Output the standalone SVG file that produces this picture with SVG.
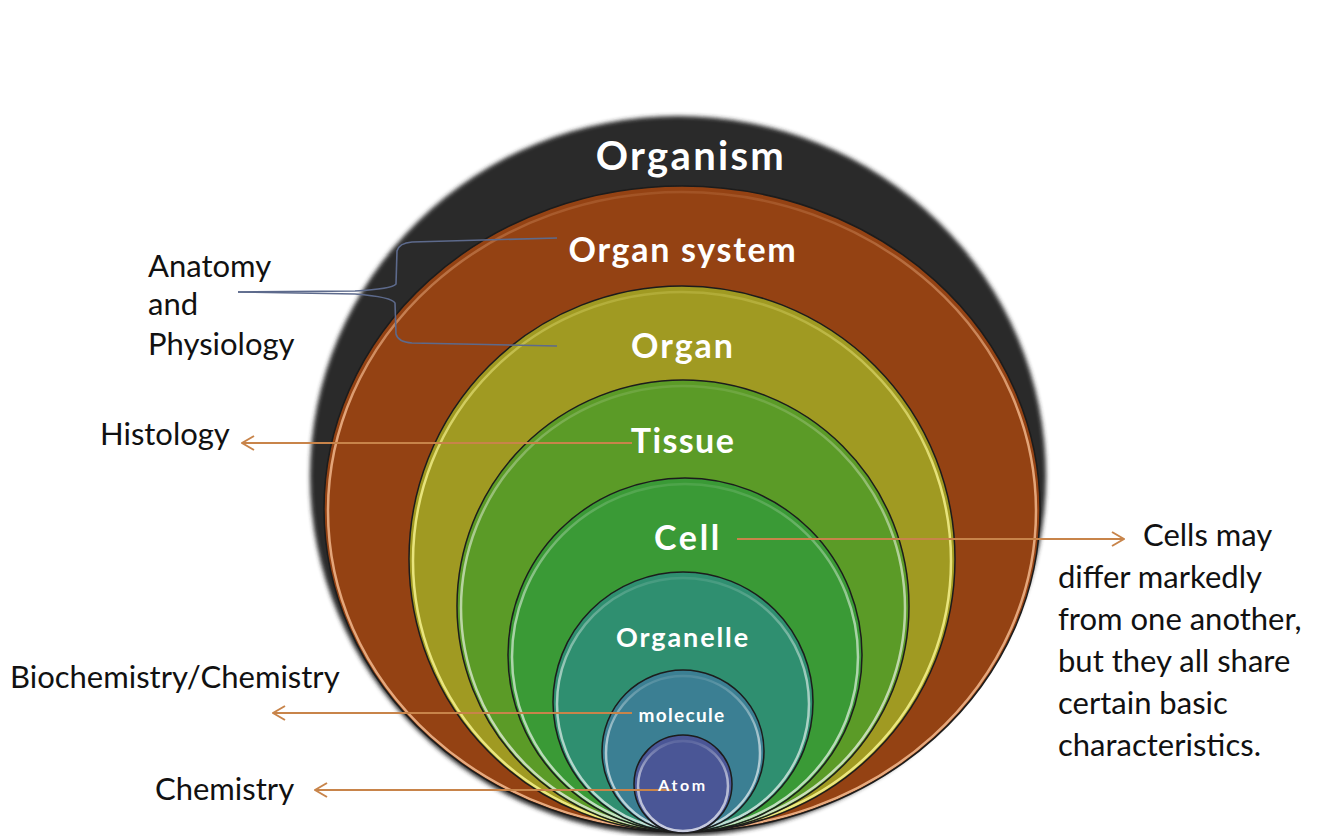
<svg xmlns="http://www.w3.org/2000/svg" width="1319" height="836" viewBox="0 0 1319 836">
<style>
.lbl{font-family:Lato,"Open Sans","Liberation Sans",sans-serif;font-weight:bold;fill:#ffffff;text-anchor:middle}
.side{font-family:Lato,"Open Sans","Liberation Sans",sans-serif;font-size:31px;fill:#111111}
.rim{fill:none;stroke:#1c1c1c;stroke-width:1.5}
.hl{fill:none;stroke-width:2.5;stroke:url(#hlg)}
.arr{fill:none;stroke:#c8844a;stroke-width:2;marker-end:url(#ah)}
.brk{fill:none;stroke:#5d6a8c;stroke-width:1.6}
</style>
<defs>
<marker id="ah" viewBox="0 0 14 16" refX="13" refY="8" markerWidth="14" markerHeight="16" markerUnits="userSpaceOnUse" orient="auto">
<polyline points="1,1 13,8 1,15" fill="none" stroke="#c8844a" stroke-width="2"/>
</marker>
<linearGradient id="hlg" x1="0" y1="0" x2="0" y2="1">
<stop offset="0" stop-color="#ffffff" stop-opacity="0.1"/>
<stop offset="0.4" stop-color="#ffffff" stop-opacity="0.55"/>
<stop offset="1" stop-color="#ffffff" stop-opacity="0.7"/>
</linearGradient>
<linearGradient id="hlo" x1="0" y1="0" x2="0" y2="1">
<stop offset="0" stop-color="#f0b58a" stop-opacity="0.15"/>
<stop offset="0.35" stop-color="#f0b58a" stop-opacity="0.85"/>
<stop offset="1" stop-color="#f0b58a" stop-opacity="0.9"/>
</linearGradient>
<linearGradient id="hly" x1="0" y1="0" x2="0" y2="1">
<stop offset="0" stop-color="#f4f08a" stop-opacity="0.2"/>
<stop offset="0.35" stop-color="#f4f08a" stop-opacity="0.85"/>
<stop offset="1" stop-color="#f4f08a" stop-opacity="0.9"/>
</linearGradient>
<filter id="soft" x="-5%" y="-5%" width="110%" height="110%"><feGaussianBlur stdDeviation="2"/></filter>
</defs>
<rect width="1319" height="836" fill="#ffffff"/>

<g id="organism">
<ellipse cx="678" cy="476" rx="368" ry="360" fill="#2c2c2c" filter="url(#soft)"/>
</g>
<g id="organ-system">
<ellipse cx="682" cy="509" rx="358" ry="323" fill="#944213"/>
<ellipse cx="682" cy="511" rx="354" ry="319" fill="none" stroke="url(#hlo)" stroke-width="2.5"/>
<ellipse class="rim" cx="682" cy="509" rx="358" ry="323"/>
</g>
<g id="organ">
<circle cx="682" cy="559" r="273" fill="#a09a22"/>
<circle cx="682" cy="561" r="269" fill="none" stroke="url(#hly)" stroke-width="2.5"/>
<circle class="rim" cx="682" cy="559" r="273"/>
</g>
<g id="tissue">
<circle cx="683" cy="606" r="226" fill="#5b9b27"/>
<circle class="hl" cx="683" cy="608" r="222"/>
<circle class="rim" cx="683" cy="606" r="226"/>
</g>
<g id="cell">
<circle cx="685" cy="655" r="177" fill="#3a9a36"/>
<circle class="hl" cx="685" cy="657" r="173"/>
<circle class="rim" cx="685" cy="655" r="177"/>
</g>
<g id="organelle">
<circle cx="683" cy="702" r="130" fill="#2f8f70"/>
<circle class="hl" cx="683" cy="704" r="126"/>
<circle class="rim" cx="683" cy="702" r="130"/>
</g>
<g id="molecule">
<circle cx="683" cy="751" r="81" fill="#3b7f93"/>
<circle class="hl" cx="683" cy="753" r="77"/>
<circle class="rim" cx="683" cy="751" r="81"/>
</g>
<g id="atom">
<circle cx="683" cy="784" r="49" fill="#4a5696"/>
<circle class="hl" cx="683" cy="786" r="45"/>
<circle class="rim" cx="683" cy="784" r="49"/>
</g>

<g id="connectors">
<path class="brk" d="M238,292 L355,291 Q392,289 396,284 L397,251 Q399,243 412,242 L557,238"/>
<path class="brk" d="M238,292 L355,294 Q392,297 395,303 L396,334 Q398,342 412,343 L557,346"/>
<line class="arr" x1="632" y1="443" x2="242" y2="443"/>
<line class="arr" x1="737" y1="539" x2="1124" y2="539"/>
<line class="arr" x1="632" y1="713" x2="273" y2="713"/>
<line class="arr" x1="672" y1="790" x2="315" y2="790"/>
</g>

<g id="labels">
<text class="lbl" x="691" y="170" font-size="40" letter-spacing="2.3">Organism</text>
<text class="lbl" x="683" y="262" font-size="34" letter-spacing="1.7">Organ system</text>
<text class="lbl" x="683" y="358" font-size="34" letter-spacing="2">Organ</text>
<text class="lbl" x="683" y="453" font-size="34" letter-spacing="1.4">Tissue</text>
<text class="lbl" x="688" y="550" font-size="34" letter-spacing="2.7">Cell</text>
<text class="lbl" x="683" y="647" font-size="27" letter-spacing="1.9">Organelle</text>
<text class="lbl" x="682" y="722" font-size="19" letter-spacing="1.3">molecule</text>
<text class="lbl" x="683" y="791" font-size="16" letter-spacing="2.6">Atom</text>
</g>

<g id="side-labels">
<text class="side" x="148" y="277">Anatomy</text>
<text class="side" x="148" y="315">and</text>
<text class="side" x="148" y="355">Physiology</text>
<text class="side" x="100" y="445">Histology</text>
<text class="side" x="10" y="688">Biochemistry/Chemistry</text>
<text class="side" x="155" y="800">Chemistry</text>
<text class="side" x="1143" y="546">Cells may</text>
<text class="side" x="1058" y="588">differ markedly</text>
<text class="side" x="1058" y="630">from one another,</text>
<text class="side" x="1058" y="672">but they all share</text>
<text class="side" x="1058" y="714">certain basic</text>
<text class="side" x="1058" y="756">characteristics.</text>
</g>
</svg>
